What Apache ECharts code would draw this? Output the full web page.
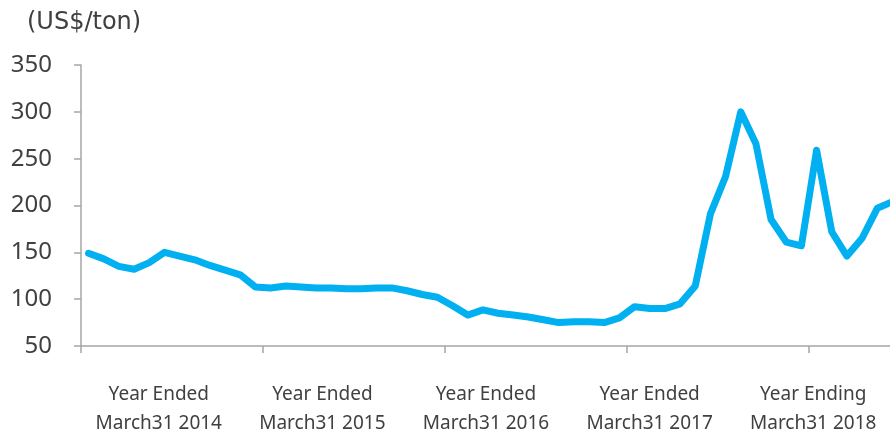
<!DOCTYPE html>
<html>
<head>
<meta charset="utf-8">
<script src="https://cdn.jsdelivr.net/npm/echarts@6/dist/echarts.min.js"></script>
<style>html,body{margin:0;padding:0;background:#fff;}#c{width:890px;height:430px;}</style>
</head>
<body>
<div id="c"></div>
<script>
var months = [
 '2013-04','2013-05','2013-06','2013-07','2013-08','2013-09','2013-10','2013-11','2013-12','2014-01','2014-02','2014-03',
 '2014-04','2014-05','2014-06','2014-07','2014-08','2014-09','2014-10','2014-11','2014-12','2015-01','2015-02','2015-03',
 '2015-04','2015-05','2015-06','2015-07','2015-08','2015-09','2015-10','2015-11','2015-12','2016-01','2016-02','2016-03',
 '2016-04','2016-05','2016-06','2016-07','2016-08','2016-09','2016-10','2016-11','2016-12','2017-01','2017-02','2017-03',
 '2017-04','2017-05','2017-06','2017-07','2017-08','2017-09'
];
var prices = [
 149,143,135,132,139,150,146,142,136,131,126,113,
 112,114,113,112,112,111,111,112,112,109,105,102,
 93,83,88.5,85,83,81,78,75,76,76,75,80,
 92,90,90,95,114,191,231,300,266,185,161,157,
 259,172,146,165,197,204
];
var yearLabels = [
 'Year Ended\nMarch31 2014',
 'Year Ended\nMarch31 2015',
 'Year Ended\nMarch31 2016',
 'Year Ended\nMarch31 2017',
 'Year Ending\nMarch31 2018'
];
var unitLabel = '(US$/ton)';

var chart = echarts.init(document.getElementById('c'), null, {renderer: 'canvas'});
var axisGray = '#a6a6a6';
var textColor = '#404040';
chart.setOption({
  animation: false,
  backgroundColor: '#ffffff',
  title: {
    text: unitLabel,
    left: 27, top: 8, padding: 0,
    textStyle: {fontFamily: 'DejaVu Sans', fontSize: 24, fontWeight: 'normal', color: textColor, lineHeight: 29}
  },
  grid: [
    {left: 81, width: 819, top: 65, height: 281, outerBoundsMode: 'none', containLabel: false},
    {left: 77, width: 818, top: 65, height: 281, outerBoundsMode: 'none', containLabel: false}
  ],
  xAxis: [
    {
      type: 'category', gridIndex: 0, data: months, boundaryGap: true,
      axisLine: {show: true, lineStyle: {color: axisGray, width: 1.5}},
      axisTick: {show: true, interval: 11, length: 7, lineStyle: {color: axisGray, width: 1.5}},
      axisLabel: {show: false},
      splitLine: {show: false}
    },
    {
      type: 'category', gridIndex: 1, data: yearLabels,
      axisLine: {show: false}, axisTick: {show: false}, splitLine: {show: false},
      axisLabel: {show: true, interval: 0, margin: 34, fontFamily: 'Noto Sans', fontSize: 19, lineHeight: 29, color: textColor}
    }
  ],
  yAxis: [
    {
      type: 'value', gridIndex: 0, min: 50, max: 350, interval: 50,
      axisLine: {show: true, lineStyle: {color: axisGray, width: 1.5}},
      axisTick: {show: true, length: 7, lineStyle: {color: axisGray, width: 1.5}},
      splitLine: {show: false},
      axisLabel: {margin: 29, fontFamily: 'Noto Sans', fontSize: 24, color: textColor}
    },
    {type: 'value', gridIndex: 1, show: false}
  ],
  series: [{
    type: 'line', xAxisIndex: 0, yAxisIndex: 0, data: prices,
    showSymbol: false, symbol: 'none',
    lineStyle: {color: '#00b0f0', width: 7, cap: 'round', join: 'round'},
    itemStyle: {color: '#00b0f0'}
  }]
});
</script>
</body>
</html>
